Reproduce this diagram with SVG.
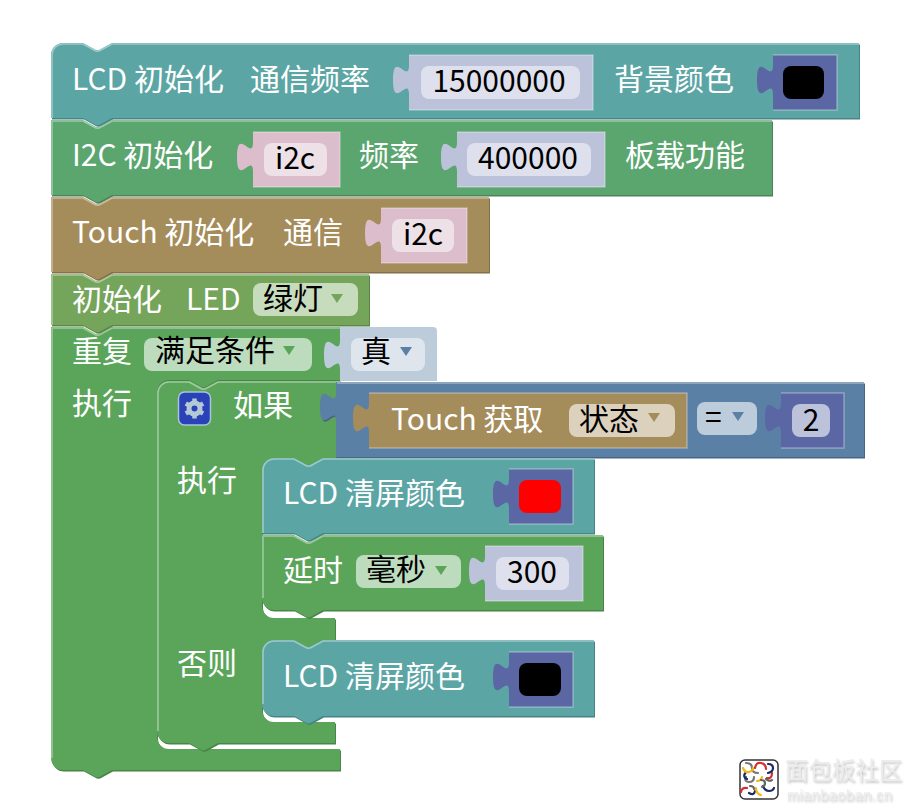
<svg xmlns="http://www.w3.org/2000/svg" width="917" height="811" viewBox="0 0 917 811">
<style>
text{font-family:"Noto Sans CJK SC","Noto Sans",sans-serif;font-size:30px}
.l{fill:#fff}
.f{fill:#000}
.m{text-anchor:middle}
.hi{fill:none;stroke-width:1.600}
.edge{fill:none;stroke:#fff;stroke-opacity:.32;stroke-width:1.500}
.teal{fill:#5ba5a5}.tealD{fill:#498484}.tealL{stroke:#9dc9c9}
.jade{fill:#5ba56f}.jadeD{fill:#498459}.jadeL{stroke:#9dc9a9}
.sand{fill:#a58c5b}.sandD{fill:#847049}.sandL{stroke:#c9ba9d}
.leaf{fill:#74a55b}.leafD{fill:#5d8449}.leafL{stroke:#acc99d}
.loop{fill:#5ba55b}.loopD{fill:#498449}.loopL{stroke:#9dc99d}
.logic{fill:#5b80a5}.logicD{fill:#496684}.logicL{stroke:#9db3c9}
.col{fill:#5b67a5}
.numS{fill:#bdc2db}.numF{fill:#dee0ed}
.pinkS{fill:#dbbdcc}.pinkF{fill:#ede0e6}
.boolS{fill:#bdccdb}.boolF{fill:#dee5ed}
.arc{fill:none;stroke-width:2.200;stroke-linecap:round}
</style>
<defs>
<filter id="soft" x="-10%" y="-30%" width="120%" height="170%"><feDropShadow dx="1" dy="2" stdDeviation="1.200" flood-color="#9a9a9a" flood-opacity=".6"/></filter>
<path id="p-lcd" d="M51 55a12 12 0 0 1 12-12H83l11 6q3.500 2.500 7 0l11-6H859V118H112l-11 6q-3.500 2.500-7 0l-11-6H51Z"/>
<path id="p-i2c" d="M51 120H83l11 6q3.500 2.500 7 0l11-6H772V195H112l-11 6q-3.500 2.500-7 0l-11-6H51Z"/>
<path id="p-touch" d="M51 197H83l11 6q3.500 2.500 7 0l11-6H489V272H112l-11 6q-3.500 2.500-7 0l-11-6H51Z"/>
<path id="p-led" d="M51 274H83l11 6q3.500 2.500 7 0l11-6H369V325H112l-11 6q-3.500 2.500-7 0l-11-6H51Z"/>
<path id="p-loop" d="M51 327H83l11 6q3.500 2.500 7 0l11-6H340V380H218l-11 6q-3.500 2.500-7 0l-11-6H169a12 12 0 0 0-12 12V737a12 12 0 0 0 12 12H340V770H112l-11 6q-3.500 2.500-7 0l-11-6H63a12 12 0 0 1-12-12Z"/>
<path id="p-if" d="M157 393a12 12 0 0 1 12-12H189l11 6q3.500 2.500 7 0l11-6H336V458H323l-11 6q-3.500 2.500-7 0l-11-6H274a12 12 0 0 0-12 12V606a12 12 0 0 0 12 12H335V640H323l-11 6q-3.500 2.500-7 0l-11-6H274a12 12 0 0 0-12 12V710a12 12 0 0 0 12 12H335V743H218l-11 6q-3.500 2.500-7 0l-11-6H169a12 12 0 0 1-12-12Z"/>
<path id="p-eq" d="M336 382H864V457H336V422c0-20-16 16-16-15s16 5 16-15Z"/>
<path id="p-clear1" d="M262 470a12 12 0 0 1 12-12H294l11 6q3.500 2.500 7 0l11-6H594V533H323l-11 6q-3.500 2.500-7 0l-11-6H262Z"/>
<path id="p-delay" d="M262 535H294l11 6q3.500 2.500 7 0l11-6H603V610H323l-11 6q-3.500 2.500-7 0l-11-6H274a12 12 0 0 1-12-12Z"/>
<path id="p-clear2" d="M262 652a12 12 0 0 1 12-12H294l11 6q3.500 2.500 7 0l11-6H594V716H323l-11 6q-3.500 2.500-7 0l-11-6H274a12 12 0 0 1-12-12Z"/>
</defs>

<g id="loop-block">
<use href="#p-loop" class="loopD" x="1" y="1.500"/><use href="#p-loop" class="loop"/>
<path class="hi loopL" d="M52 758V328H83l11 6q3.500 2.500 7 0l11-6H340"/>
<text class="l" x="72" y="362">重复</text>
<text class="l" x="72" y="414">执行</text>
<rect x="144" y="338" width="168" height="33" rx="8" fill="#bddbbd"/>
<text class="f" x="155" y="361">满足条件</text>
<path d="M283 346h12l-6 9Z" fill="#5ba55b"/>
<g id="true-value">
<path class="boolS" d="M340 327H433a4 4 0 0 1 4 4V381H340V370c0-20-16 16-16-15s16 5 16-15Z"/>
<rect class="boolF" x="351" y="338" width="74" height="33" rx="8"/>
<text class="f" x="361" y="362">真</text>
<path d="M400 347h12l-6 9Z" fill="#5b80a5"/>
</g>
</g>

<g id="if-block">
<use href="#p-if" class="loopD" x="1" y="1.500"/><use href="#p-if" class="loop"/>
<path class="hi loopL" d="M158 731V393a11 11 0 0 1 11-11H189l11 6q3.500 2.500 7 0l11-6H336"/>
<g id="mutator-icon">
<rect x="178.500" y="392" width="32" height="33" rx="6" fill="#2a42b8" stroke="#a9c4d8" stroke-width="1.500"/>
<g fill="none" stroke="#b4c9d6">
<circle cx="194.500" cy="408.500" r="5.500" stroke-width="5"/>
<path d="M194.500 398.500v20M185.800 403.500l17.300 10M185.800 413.500l17.300-10" stroke-width="4.500" stroke-dasharray="3.500 13"/>
</g>
</g>
<text class="l" x="233" y="416">如果</text>
<text class="l" x="177" y="491">执行</text>
<text class="l" x="177" y="674">否则</text>
</g>

<g id="lcd-init">
<use href="#p-lcd" class="tealD" x="1" y="1.500"/><use href="#p-lcd" class="teal"/>
<path class="hi tealL" d="M52 118V55a11 11 0 0 1 11-11H83l11 6q3.500 2.500 7 0l11-6H859"/>
<text class="l" x="72" y="90">LCD 初始化</text>
<text class="l" x="250" y="90">通信频率</text>
<text class="l" x="614" y="90">背景颜色</text>
<path class="numS" d="M409 55H593V110H409V95c0-20-16 16-16-15s16 5 16-15Z"/>
<path class="edge" d="M409 55H593V110H409"/>
<rect class="numF" x="421" y="66" width="159" height="33" rx="8"/>
<text class="f m" x="499" y="92">15000000</text>
<path class="col" d="M773 55H837V110H773V95c0-20-16 16-16-15s16 5 16-15Z"/>
<path class="edge" d="M773 55H837V110H773"/>
<rect x="783" y="66" width="41" height="33" rx="8" fill="#000"/>
</g>

<g id="i2c-init">
<use href="#p-i2c" class="jadeD" x="1" y="1.500"/><use href="#p-i2c" class="jade"/>
<path class="hi jadeL" d="M52 195V121H83l11 6q3.500 2.500 7 0l11-6H772"/>
<text class="l" x="72" y="166">I2C 初始化</text>
<text class="l" x="359" y="166">频率</text>
<text class="l" x="625" y="166">板载功能</text>
<path class="pinkS" d="M253 132H340V187H253V172c0-20-16 16-16-15s16 5 16-15Z"/>
<path class="edge" d="M253 132H340V187H253"/>
<rect class="pinkF" x="264" y="143" width="63" height="33" rx="8"/>
<text class="f m" x="295" y="169">i2c</text>
<path class="numS" d="M457 132H605V187H457V172c0-20-16 16-16-15s16 5 16-15Z"/>
<path class="edge" d="M457 132H605V187H457"/>
<rect class="numF" x="467" y="143" width="124" height="33" rx="8"/>
<text class="f m" x="528" y="169">400000</text>
</g>

<g id="touch-init">
<use href="#p-touch" class="sandD" x="1" y="1.500"/><use href="#p-touch" class="sand"/>
<path class="hi sandL" d="M52 272V198H83l11 6q3.500 2.500 7 0l11-6H489"/>
<text class="l" x="72" y="243">Touch 初始化</text>
<text class="l" x="283" y="243">通信</text>
<path class="pinkS" d="M381 208H467V263H381V248c0-20-16 16-16-15s16 5 16-15Z"/>
<path class="edge" d="M381 208H467V263H381"/>
<rect class="pinkF" x="392" y="219" width="62" height="33" rx="8"/>
<text class="f m" x="423" y="245">i2c</text>
</g>

<g id="led-init">
<use href="#p-led" class="leafD" x="1" y="1.500"/><use href="#p-led" class="leaf"/>
<path class="hi leafL" d="M52 325V275H83l11 6q3.500 2.500 7 0l11-6H369"/>
<text class="l" x="72" y="310">初始化</text>
<text class="l" x="186" y="310">LED</text>
<rect x="253" y="283" width="105" height="33" rx="8" fill="#c7dbbd"/>
<text class="f" x="263" y="309">绿灯</text>
<path d="M331 294h12l-6 9Z" fill="#74a55b"/>
</g>

<g id="compare-value">
<use href="#p-eq" class="logicD" x="1" y="1.500"/><use href="#p-eq" class="logic"/>
<path class="hi logicL" d="M337 383H864"/>
<g id="touch-read">
<path class="sand" d="M369 393H687V448H369V433c0-20-16 16-16-15s16 5 16-15Z"/>
<path class="edge" d="M369 393H687V448H369"/>
<text class="l" x="391" y="430">Touch 获取</text>
<rect x="569" y="404" width="106" height="33" rx="8" fill="#dbd1bd"/>
<text class="f" x="579" y="430">状态</text>
<path d="M648 413h12l-6 9Z" fill="#a58c5b"/>
</g>
<rect class="boolS" x="697" y="402" width="60" height="33" rx="8"/>
<text class="f" x="705" y="428">=</text>
<path d="M732 412h12l-6 9Z" fill="#5b80a5"/>
<path class="col" d="M781 393H844V448H781V433c0-20-16 16-16-15s16 5 16-15Z"/>
<path class="edge" d="M781 393H844V448H781"/>
<rect class="numS" x="792" y="404" width="38" height="33" rx="8"/>
<text class="f m" x="811" y="431">2</text>
</g>

<g id="clear-red">
<use href="#p-clear1" class="tealD" x="1" y="1.500"/><use href="#p-clear1" class="teal"/>
<path class="hi tealL" d="M263 533V470a11 11 0 0 1 11-11H294l11 6q3.500 2.500 7 0l11-6H594"/>
<text class="l" x="283" y="504">LCD 清屏颜色</text>
<path class="col" d="M509 469H573V524H509V509c0-20-16 16-16-15s16 5 16-15Z"/>
<path class="edge" d="M509 469H573V524H509"/>
<rect x="519" y="480" width="42" height="33" rx="8" fill="#f00"/>
</g>

<g id="delay-ms">
<use href="#p-delay" class="loopD" x="1" y="1.500"/><use href="#p-delay" class="loop"/>
<path class="hi loopL" d="M263 598V536H294l11 6q3.500 2.500 7 0l11-6H603"/>
<text class="l" x="283" y="581">延时</text>
<rect x="356" y="555" width="105" height="33" rx="8" fill="#bddbbd"/>
<text class="f" x="366" y="580">毫秒</text>
<path d="M435 566h12l-6 9Z" fill="#5ba55b"/>
<path class="numS" d="M485 546H583V601H485V586c0-20-16 16-16-15s16 5 16-15Z"/>
<path class="edge" d="M485 546H583V601H485"/>
<rect class="numF" x="496" y="557" width="73" height="33" rx="8"/>
<text class="f m" x="532" y="583">300</text>
</g>

<g id="clear-black">
<use href="#p-clear2" class="tealD" x="1" y="1.500"/><use href="#p-clear2" class="teal"/>
<path class="hi tealL" d="M263 704V652a11 11 0 0 1 11-11H294l11 6q3.500 2.500 7 0l11-6H594"/>
<text class="l" x="283" y="687">LCD 清屏颜色</text>
<path class="col" d="M509 652H573V707H509V692c0-20-16 16-16-15s16 5 16-15Z"/>
<path class="edge" d="M509 652H573V707H509"/>
<rect x="519" y="663" width="42" height="33" rx="8" fill="#000"/>
</g>

<g id="site-mark">
<rect x="740" y="760" width="38" height="39" rx="5" fill="#fff" stroke="#333" stroke-width="1.500"/>
<path class="arc" stroke="#777" d="M746 763q6 0 6 5t6 5M746 777q-2 5 3 5t5-5"/>
<path class="arc" stroke="#d32f2f" d="M755 768q1-6 6-5t5 6M767 778q5 1 5-5M741 792q1-5 6-4"/>
<path class="arc" stroke="#1b2a6b" d="M768 764q5 0 5 4t-5 5M746 772q-4 5 1 7M763 786q2 5 6 5t5-3M749 793q5 3 6-2"/>
<path class="arc" stroke="#f2b90f" d="M743 768q2 5 6 4t4-4M757 781q4 0 5-4M756 788q0 6 5 7"/>
<path class="arc" stroke="#666" d="M761 780q4 0 4 3t-3 4M750 786q4 0 4 3M766 779q4 3 6 1"/>
<g filter="url(#soft)">
<text x="785" y="779" fill="#ececec" style="font-size:23.500px">面包板社区</text>
<text x="787" y="800" fill="#ececec" style="font-size:14.500px;font-family:'Liberation Sans',sans-serif;letter-spacing:.5px">mianbaoban.cn</text>
</g>
</g>
</svg>
